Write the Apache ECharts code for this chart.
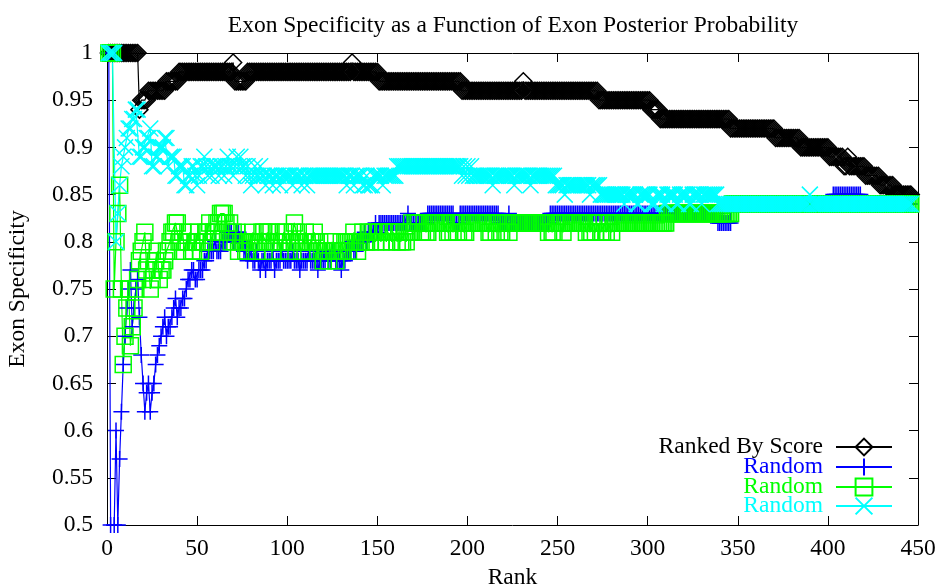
<!DOCTYPE html>
<html><head><meta charset="utf-8">
<script src="https://cdn.jsdelivr.net/npm/echarts/dist/echarts.min.js"></script>
<style>html,body{margin:0;padding:0;background:#fff}#c{width:938px;height:585px}</style>
</head><body><div id="c"></div>
<script>
const chartTitle = 'Exon Specificity as a Function of Exon Posterior Probability';
const xName = 'Rank';
const yName = 'Exon Specificity';
const seriesNames = ['Ranked By Score', 'Random 1', 'Random 2', 'Random 3'];
const legendLabels = ['Ranked By Score', 'Random', 'Random', 'Random'];
const seriesColors = ['#000000', '#0000ff', '#00ff00', '#00ffff'];

// value at rank 1, 2, 3, ... (one per rank)
const rankedByScore = [
1,1,1,1,1,1,1,1,1,1, 1,1,1,1,1,1,1,.94,.95,.95,
.95,.95,.96,.96,.96,.96,.96,.96,.96,.96, .96,.96,.97,.97,.97,.97,.97,.97,.97,.98,
.98,.98,.98,.98,.98,.98,.98,.98,.98,.98, .98,.98,.98,.98,.98,.98,.98,.98,.98,.98,
.98,.98,.98,.98,.98,.98,.98,.98,.98,.99, .97,.97,.97,.97,.97,.97,.97,.98,.98,.98,
.98,.98,.98,.98,.98,.98,.98,.98,.98,.98, .98,.98,.98,.98,.98,.98,.98,.98,.98,.98,
.98,.98,.98,.98,.98,.98,.98,.98,.98,.98, .98,.98,.98,.98,.98,.98,.98,.98,.98,.98,
.98,.98,.98,.98,.98,.98,.98,.98,.98,.98, .98,.98,.98,.98,.98,.99,.98,.98,.98,.98,
.98,.98,.98,.98,.98,.98,.98,.98,.98,.98, .97,.97,.97,.97,.97,.97,.97,.97,.97,.97,
.97,.97,.97,.97,.97,.97,.97,.97,.97,.97, .97,.97,.97,.97,.97,.97,.97,.97,.97,.97,
.97,.97,.97,.97,.97,.97,.97,.97,.97,.97, .97,.97,.97,.97,.97,.97,.96,.96,.96,.96,
.96,.96,.96,.96,.96,.96,.96,.96,.96,.96, .96,.96,.96,.96,.96,.96,.96,.96,.96,.96,
.96,.96,.96,.96,.96,.96,.96,.96,.96,.96, .97,.96,.96,.96,.96,.96,.96,.96,.96,.96,
.96,.96,.96,.96,.96,.96,.96,.96,.96,.96, .96,.96,.96,.96,.96,.96,.96,.96,.96,.96,
.96,.96,.96,.96,.96,.96,.96,.96,.96,.96, .96,.96,.95,.95,.95,.95,.95,.95,.95,.95,
.95,.95,.95,.95,.95,.95,.95,.95,.95,.95, .95,.95,.95,.95,.95,.95,.95,.95,.95,.95,
.95,.94,.94,.94,.94,.94,.93,.93,.93,.93, .93,.93,.93,.93,.93,.93,.93,.93,.93,.93,
.93,.93,.93,.93,.93,.93,.93,.93,.93,.93, .93,.93,.93,.93,.93,.93,.93,.93,.93,.93,
.93,.93,.93,.93,.93,.92,.92,.92,.92,.92, .92,.92,.92,.92,.92,.92,.92,.92,.92,.92,
.92,.92,.92,.92,.92,.92,.92,.92,.92,.92, .91,.91,.91,.91,.91,.91,.91,.91,.91,.91,
.91,.91,.91,.91,.90,.90,.90,.90,.90,.90, .90,.90,.90,.90,.90,.90,.90,.90,.90,.90,
.89,.89,.89,.89,.89,.89,.89,.89,.88,.88, .89,.88,.88,.88,.88,.88,.88,.88,.88,.88,
.87,.87,.87,.87,.87,.87,.87,.87,.86,.86, .86,.86,.86,.86,.86,.86,.85,.85,.85,.85,
.85,.85,.85,.85,.85,.85
];

const randomBlue = [
1,.5,.33,.5,.6,.5,.57,.62,.67,.7, .73,.75,.77,.71,.73,.75,.76,.72,.68,.65,
.62,.64,.65,.62,.64,.65,.67,.68,.69,.7, .71,.72,.7,.71,.71,.72,.73,.74,.72,.73,
.73,.74,.74,.75,.76,.76,.77,.77,.76,.76, .77,.77,.77,.78,.78,.79,.79,.79,.79,.8,
.79,.79,.79,.8,.8,.8,.81,.81,.81,.8, .8,.81,.81,.8,.8,.79,.79,.78,.79,.79,
.78,.78,.79,.78,.77,.78,.78,.77,.78,.78, .78,.79,.77,.78,.78,.78,.79,.78,.78,.78,
.78,.78,.79,.78,.78,.78,.77,.78,.78,.78, .78,.79,.78,.78,.78,.78,.77,.78,.78,.78,
.78,.79,.78,.78,.79,.79,.78,.78,.78,.77, .78,.78,.79,.79,.79,.8,.79,.79,.8,.8,
.8,.8,.81,.8,.81,.81,.81,.81,.82,.81, .82,.82,.82,.82,.82,.82,.82,.82,.82,.82,
.82,.82,.82,.82,.82,.82,.83,.82,.82,.82, .82,.82,.82,.82,.82,.82,.82,.83,.83,.83,
.83,.83,.83,.83,.83,.83,.83,.83,.83,.83, .83,.83,.82,.82,.82,.83,.83,.83,.83,.83,
.83,.83,.83,.83,.83,.83,.83,.83,.83,.83, .83,.83,.83,.83,.83,.83,.83,.82,.82,.82,
.82,.82,.83,.82,.82,.82,.82,.82,.82,.82, .82,.82,.82,.82,.82,.82,.82,.82,.82,.82,
.82,.82,.82,.82,.82,.83,.83,.83,.83,.83, .83,.83,.83,.83,.83,.83,.83,.83,.83,.83,
.83,.83,.83,.83,.83,.83,.83,.83,.83,.83, .83,.83,.83,.83,.83,.83,.83,.83,.83,.83,
.83,.83,.83,.83,.83,.83,.83,.83,.83,.83, .83,.83,.83,.83,.83,.83,.83,.83,.83,.83,
.83,.83,.83,.83,.83,.83,.83,.83,.83,.83, .83,.83,.83,.83,.83,.83,.83,.83,.83,.83,
.83,.83,.83,.83,.83,.83,.83,.83,.83,.83, .83,.83,.83,.83,.83,.83,.83,.83,.82,.82,
.82,.82,.82,.82,.82,.82,.84,.84,.84,.84, .84,.84,.84,.84,.84,.84,.84,.84,.84,.84,
.84,.84,.84,.84,.84,.84,.84,.84,.84,.84, .84,.84,.84,.84,.84,.84,.84,.84,.84,.84,
.84,.84,.84,.84,.84,.84,.84,.84,.84,.84, .84,.84,.84,.84,.84,.84,.84,.84,.84,.84,
.84,.84,.85,.85,.85,.85,.85,.85,.85,.85, .85,.85,.85,.85,.85,.85,.85,.85,.84,.84,
.84,.84,.84,.84,.84,.84,.84,.84,.84,.84, .84,.84,.84,.84,.84,.84,.84,.84,.84,.84,
.84,.84,.84,.84,.84,.84
];

const randomGreen = [
1,1,1,.75,.8,.83,.86,.75,.67,.7, .73,.75,.69,.71,.73,.75,.76,.78,.79,.8,
.81,.77,.78,.75,.76,.77,.78,.79,.76,.77, .77,.78,.79,.79,.8,.81,.81,.82,.82,.8,
.8,.81,.79,.8,.8,.81,.79,.79,.8,.8, .81,.79,.8,.8,.81,.81,.82,.8,.81,.81,
.82,.82,.83,.83,.83,.82,.81,.82,.8,.81, .8,.81,.79,.8,.8,.8,.79,.79,.8,.8,
.81,.8,.79,.8,.8,.81,.81,.8,.81,.8, .81,.79,.8,.81,.8,.79,.8,.81,.81,.8,
.79,.8,.81,.82,.81,.8,.8,.79,.8,.81, .8,.79,.8,.8,.81,.8,.79,.8,.79,.78,
.79,.79,.78,.79,.8,.79,.78,.79,.79,.8, .79,.8,.8,.79,.8,.8,.81,.8,.79,.8,
.8,.81,.8,.8,.81,.8,.81,.81,.8,.81, .81,.8,.81,.81,.8,.81,.81,.8,.81,.81,
.8,.81,.8,.8,.81,.8,.81,.81,.82,.81, .82,.82,.82,.81,.81,.82,.81,.81,.82,.82,
.82,.82,.82,.82,.82,.82,.82,.82,.81,.81, .82,.81,.82,.81,.81,.82,.82,.81,.81,.82,
.82,.82,.82,.82,.82,.82,.82,.82,.82,.82, .82,.81,.81,.82,.82,.81,.82,.81,.81,.82,
.82,.82,.81,.82,.82,.82,.82,.82,.82,.82, .82,.82,.82,.82,.82,.82,.82,.82,.82,.82,
.82,.82,.82,.82,.81,.82,.81,.81,.82,.82, .82,.82,.81,.82,.82,.82,.82,.82,.82,.82,
.82,.82,.82,.82,.82,.81,.82,.81,.81,.82, .81,.82,.82,.81,.81,.82,.81,.82,.82,.81,
.82,.82,.82,.82,.82,.82,.82,.82,.82,.82, .82,.82,.82,.82,.82,.82,.82,.82,.82,.82,
.82,.82,.82,.82,.82,.82,.82,.82,.82,.82, .83,.83,.83,.83,.83,.83,.83,.83,.83,.83,
.83,.83,.83,.83,.83,.83,.83,.83,.83,.83, .83,.83,.83,.83,.83,.83,.83,.83,.83,.83,
.83,.83,.83,.83,.83,.83,.84,.84,.84,.84, .84,.84,.84,.84,.84,.84,.84,.84,.84,.84,
.84,.84,.84,.84,.84,.84,.84,.84,.84,.84, .84,.84,.84,.84,.84,.84,.84,.84,.84,.84,
.84,.84,.84,.84,.84,.84,.84,.84,.84,.84, .84,.84,.84,.84,.84,.84,.84,.84,.84,.84,
.84,.84,.84,.84,.84,.84,.84,.84,.84,.84, .84,.84,.84,.84,.84,.84,.84,.84,.84,.84,
.84,.84,.84,.84,.84,.84,.84,.84,.84,.84, .84,.84,.84,.84,.84,.84,.84,.84,.84,.84,
.84,.84,.84,.84,.84,.84
];

const randomCyan = [
1,1,1,1,.8,.83,.86,.88,.89,.9, .91,.92,.92,.93,.93,.94,.94,.89,.89,.9,
.9,.91,.91,.92,.88,.88,.89,.89,.9,.9, .9,.91,.91,.88,.89,.89,.89,.87,.87,.88,
.88,.88,.86,.86,.87,.87,.88,.88,.87,.86, .87,.88,.88,.89,.88,.87,.88,.87,.88,.88,
.88,.87,.88,.88,.87,.88,.89,.88,.88,.87, .88,.89,.88,.89,.88,.88,.87,.88,.87,.86,
.87,.88,.87,.87,.88,.87,.87,.86,.87,.87, .87,.86,.87,.87,.87,.86,.87,.87,.87,.87,
.87,.87,.86,.87,.87,.87,.87,.86,.87,.87, .86,.87,.87,.87,.87,.87,.87,.87,.87,.87,
.87,.87,.87,.87,.87,.87,.87,.87,.87,.87, .87,.87,.86,.87,.87,.87,.86,.87,.87,.87,
.87,.86,.86,.87,.86,.86,.86,.87,.87,.87, .87,.87,.86,.87,.87,.87,.87,.87,.87,.87,
.88,.88,.88,.88,.88,.88,.88,.88,.88,.88, .88,.88,.88,.88,.88,.88,.88,.88,.88,.88,
.88,.88,.88,.88,.88,.88,.88,.88,.88,.88, .88,.88,.88,.88,.88,.88,.87,.88,.87,.88,
.87,.88,.87,.87,.87,.87,.87,.87,.87,.87, .87,.87,.87,.86,.87,.87,.87,.87,.87,.87,
.87,.87,.87,.87,.87,.86,.87,.87,.87,.87, .87,.87,.87,.87,.86,.87,.87,.87,.87,.87,
.87,.87,.87,.87,.87,.87,.87,.87,.86,.86, .86,.86,.86,.85,.86,.86,.86,.86,.86,.86,
.86,.86,.86,.86,.86,.86,.86,.85,.86,.86, .86,.86,.86,.85,.85,.85,.85,.85,.85,.85,
.85,.85,.85,.85,.85,.85,.84,.85,.85,.85, .85,.85,.85,.84,.84,.85,.85,.85,.85,.85,
.85,.84,.84,.84,.85,.85,.85,.85,.84,.84, .85,.85,.85,.85,.85,.84,.84,.85,.85,.85,
.85,.85,.84,.84,.85,.85,.85,.85,.85,.84, .85,.85,.85,.85,.85,.85,.85,.85,.84,.84,
.84,.84,.84,.84,.84,.84,.84,.84,.84,.84, .84,.84,.84,.84,.84,.84,.84,.84,.84,.84,
.84,.84,.84,.84,.84,.84,.84,.84,.84,.84, .84,.84,.84,.84,.84,.84,.84,.84,.84,.84,
.84,.84,.84,.84,.84,.84,.84,.84,.84,.85, .84,.84,.84,.84,.84,.84,.84,.84,.84,.84,
.84,.84,.84,.84,.84,.84,.84,.84,.84,.84, .84,.84,.84,.84,.84,.84,.84,.84,.84,.84,
.84,.84,.84,.84,.84,.84,.84,.84,.84,.84, .84,.84,.84,.84,.84,.84,.84,.84,.84,.84,
.84,.84,.84,.84,.84,.84
];

const seriesValues = [rankedByScore, randomBlue, randomGreen, randomCyan];
const xMin = 0, xMax = 450, xStep = 50;
const yMin = 0.5, yMax = 1, yStep = 0.05;

const FONT = '"Liberation Serif", "Times New Roman", serif';
const FS = 23.5;
const symbols = [
  'diamond',
  'path://M5,0L5,10M0,5L10,5',
  'rect',
  'path://M0,0L10,10M10,0L0,10'
];
const symbolSizes = [17, 16, 16, 16];
const legendTops = [435, 455, 475, 494];

function toPoints(vals) { return vals.map((v, i) => [i + 1, v]); }

const chart = echarts.init(document.getElementById('c'), null, {renderer: 'canvas'});

const axisCommon = {
  axisLine: {show: true, onZero: false, lineStyle: {color: '#000', width: 1}},
  axisTick: {show: true, inside: true, length: 9, lineStyle: {color: '#000', width: 1}},
  splitLine: {show: false}
};

const option = {
  animation: false,
  backgroundColor: '#fff',
  title: {
    text: chartTitle, left: 508, top: 9, textAlign: 'center',
    textStyle: {fontFamily: FONT, fontSize: FS, fontWeight: 'normal', color: '#000'}
  },
  grid: {left: 107, right: 20, top: 53, bottom: 60, containLabel: false, outerBoundsMode: 'none'},
  xAxis: [
    Object.assign({
      type: 'value', min: xMin, max: xMax, interval: xStep, position: 'bottom',
      name: xName, nameLocation: 'middle', nameGap: 39,
      nameTextStyle: {fontFamily: FONT, fontSize: FS, color: '#000'},
      axisLabel: {fontFamily: FONT, fontSize: FS, color: '#000', margin: 12}
    }, axisCommon),
    Object.assign({
      type: 'value', min: xMin, max: xMax, interval: xStep, position: 'top',
      axisLabel: {show: false}
    }, axisCommon)
  ],
  yAxis: [
    Object.assign({
      type: 'value', min: yMin, max: yMax, interval: yStep, position: 'left',
      name: yName, nameLocation: 'middle', nameGap: 77, nameRotate: 90,
      nameTextStyle: {fontFamily: FONT, fontSize: FS, color: '#000'},
      axisLabel: {fontFamily: FONT, fontSize: FS, color: '#000', margin: 14}
    }, axisCommon),
    Object.assign({
      type: 'value', min: yMin, max: yMax, interval: yStep, position: 'right',
      axisLabel: {show: false}
    }, axisCommon)
  ],
  legend: seriesNames.map((n, i) => ({
    data: [n], right: 45, top: legendTops[i], orient: 'horizontal', align: 'right',
    itemWidth: 56, itemHeight: 21, padding: 0, selectedMode: false,
    formatter: () => '{t|' + legendLabels[i] + '}',
    textStyle: {
      fontFamily: FONT, fontSize: FS, color: seriesColors[i],
      rich: {t: {fontFamily: FONT, fontSize: FS, color: seriesColors[i], padding: [0, 8, 0, 0]}}
    }
  })),
  series: seriesNames.map((n, i) => ({
    name: n, type: 'line', xAxisIndex: 0, yAxisIndex: 0,
    data: toPoints(seriesValues[i]),
    symbol: symbols[i], symbolSize: symbolSizes[i], showSymbol: true,
    clip: true, silent: true,
    lineStyle: {color: seriesColors[i], width: 1.2},
    itemStyle: {color: 'rgba(0,0,0,0)', borderColor: seriesColors[i], borderWidth: 1.5},
    emphasis: {disabled: true}
  }))
};
chart.setOption(option);
</script></body></html>
